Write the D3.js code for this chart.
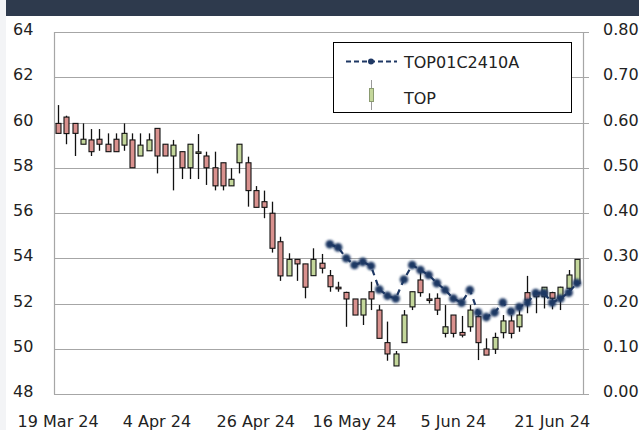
<!DOCTYPE html>
<html><head><meta charset="utf-8">
<script src="https://cdn.jsdelivr.net/npm/d3@7/dist/d3.min.js"></script>
<style>body{margin:0;background:#fff}svg{display:block;font-family:"DejaVu Sans",sans-serif}</style>
</head><body><svg id="c" width="639" height="430"></svg>
<script>
// ---- data ----
const dates = ["2024-03-19","2024-03-20","2024-03-21","2024-03-22","2024-03-25","2024-03-26","2024-03-27","2024-03-28","2024-03-29","2024-04-01","2024-04-02","2024-04-03","2024-04-04","2024-04-05","2024-04-09","2024-04-10","2024-04-11","2024-04-17","2024-04-18","2024-04-19","2024-04-22","2024-04-23","2024-04-24","2024-04-25","2024-04-26","2024-04-29","2024-04-30","2024-05-02","2024-05-03","2024-05-07","2024-05-08","2024-05-09","2024-05-10","2024-05-13","2024-05-14","2024-05-15","2024-05-16","2024-05-17","2024-05-20","2024-05-21","2024-05-23","2024-05-24","2024-05-27","2024-05-28","2024-05-29","2024-05-30","2024-05-31","2024-06-04","2024-06-05","2024-06-06","2024-06-07","2024-06-10","2024-06-11","2024-06-12","2024-06-13","2024-06-14","2024-06-17","2024-06-18","2024-06-19","2024-06-20","2024-06-21","2024-06-24","2024-06-25","2024-06-26"];
const openP  = [59.96,60.24,59.96,59.04,59.23,59.26,59.04,59.26,59.00,59.23,58.52,58.75,59.74,59.04,58.52,58.71,58.00,58.64,58.52,58.00,58.22,57.20,58.22,58.22,56.99,56.50,55.99,54.73,53.22,53.95,53.75,53.23,53.78,53.23,52.72,52.49,52.20,51.49,52.52,51.71,50.27,49.24,50.27,51.85,53.04,52.20,52.23,50.68,51.49,50.72,50.97,51.42,49.99,49.98,50.71,51.23,50.97,52.48,52.45,52.30,52.48,52.23,52.67,52.89];
const highP  = [60.77,60.30,59.96,59.96,59.71,59.71,59.52,59.52,59.96,59.52,59.52,59.52,59.74,59.04,59.23,58.71,59.04,59.49,58.71,58.71,58.22,57.98,59.04,58.49,57.19,56.99,56.50,54.95,54.22,53.95,53.75,54.44,54.19,53.48,52.96,52.52,52.20,52.20,52.96,51.93,51.20,49.90,51.71,52.52,53.48,52.45,52.45,51.93,51.49,51.45,51.93,51.49,50.46,50.71,51.49,51.49,51.71,53.22,52.52,52.72,52.52,52.74,53.48,53.95];
const lowP   = [59.52,59.04,58.52,59.04,58.52,58.75,58.71,58.71,58.75,58.00,58.52,58.75,57.75,58.52,57.00,57.50,57.50,57.50,57.24,57.00,57.00,57.20,57.75,56.28,56.25,55.77,54.25,53.00,53.22,53.00,52.23,53.23,53.33,52.52,52.52,50.97,51.49,51.05,51.71,50.46,49.47,49.24,50.27,51.71,52.30,52.00,51.49,50.50,50.50,50.50,50.75,49.50,49.72,49.77,50.46,50.46,50.75,51.57,51.57,51.78,51.74,51.71,52.38,52.89];
const closeP = [59.52,59.51,59.52,59.26,58.71,59.04,58.71,58.71,59.52,58.00,59.00,59.23,58.52,58.52,59.00,58.00,59.04,58.70,58.00,57.20,57.20,57.49,59.04,56.99,56.25,56.25,54.44,53.22,53.95,53.75,52.72,53.95,53.56,52.74,52.65,52.20,51.49,52.20,52.20,50.46,49.77,49.77,51.49,52.52,52.48,52.15,51.71,50.97,50.68,50.60,51.71,50.27,49.72,50.50,51.23,50.68,51.49,52.15,52.30,52.72,52.23,52.72,53.26,53.95];
const warrant = [null,null,null,null,null,null,null,null,null,null,null,null,null,null,null,null,null,null,null,null,null,null,null,null,null,null,null,null,null,null,null,null,null,
  0.331,0.324,0.300,0.285,0.292,0.283,0.231,0.217,0.211,0.253,0.285,0.274,0.263,0.245,0.230,0.211,0.202,0.230,0.180,0.170,0.180,0.202,0.182,0.192,0.202,0.223,0.223,0.202,0.211,0.224,0.245];
const leftTicks = [48,50,52,54,56,58,60,62,64];
const rightTicks = [0,0.1,0.2,0.3,0.4,0.5,0.6,0.7,0.8];
const xTickDates = ["2024-03-19","2024-04-04","2024-04-26","2024-05-16","2024-06-05","2024-06-21"];
const seriesNames = ["TOP01C2410A","TOP"];

// ---- layout ----
const L = 54, R = 583, T = 32, B = 394;
const svg = d3.select("#c");
const parse = d3.timeParse("%Y-%m-%d"), fmt = d3.timeFormat("%-d %b %y");
const x = d3.scaleBand().domain(dates).range([L, 581]);
const cx = d => x(d) + x.bandwidth() / 2;
const yL = d3.scaleLinear().domain([48, 64]).range([B, T]);
const yR = d3.scaleLinear().domain([0, 0.8]).range([B, T]);
const green = "#c4d79b", red = "#d9918e", navy = "#1f3864", grid = "#a6a6a6";

svg.append("rect").attr("x",0).attr("y",0).attr("width",6).attr("height",430).attr("fill","#f3f4f6");
svg.append("rect").attr("x",6).attr("y",0).attr("width",633).attr("height",16).attr("fill","#2e3a4d");

const defs = svg.append("defs");
defs.append("filter").attr("id","blur").attr("x","-50%").attr("y","-50%").attr("width","200%").attr("height","200%")
  .append("feGaussianBlur").attr("stdDeviation",0.9);

// gridlines
svg.append("g").selectAll("line").data(leftTicks).join("line")
  .attr("x1",L).attr("x2",R+6).attr("y1",d=>Math.round(yL(d))+0.5).attr("y2",d=>Math.round(yL(d))+0.5)
  .attr("stroke",grid).attr("stroke-width",1.2);
svg.append("line").attr("x1",L+0.5).attr("x2",L+0.5).attr("y1",T).attr("y2",B+0.5).attr("stroke",grid).attr("stroke-width",1.2);
svg.append("line").attr("x1",R+0.5).attr("x2",R+0.5).attr("y1",T).attr("y2",B+0.5).attr("stroke",grid).attr("stroke-width",1.2);

// axis labels
svg.append("g").selectAll("text").data(leftTicks).join("text")
  .attr("x",13).attr("y",d=>yL(d)+3).attr("font-size",16).attr("fill","#222").text(d=>d);
svg.append("g").selectAll("text").data(rightTicks).join("text")
  .attr("x",603).attr("y",d=>yR(d)+3).attr("font-size",16).attr("fill","#222").text(d3.format(".2f"));
svg.append("g").selectAll("text").data(xTickDates).join("text")
  .attr("x",d=>cx(d)).attr("y",427).attr("text-anchor","middle").attr("font-size",16).attr("fill","#222")
  .text(d=>fmt(parse(d)));

// candles
const candles = dates.map((d,i)=>({d,o:openP[i],h:highP[i],l:lowP[i],c:closeP[i]}));
const cg = svg.append("g");
cg.selectAll("line").data(candles).join("line")
  .attr("x1",d=>Math.round(cx(d.d))+0.5).attr("x2",d=>Math.round(cx(d.d))+0.5)
  .attr("y1",d=>yL(d.h)).attr("y2",d=>yL(d.l)).attr("stroke","#111").attr("stroke-width",1.3);
cg.selectAll("rect").data(candles).join("rect")
  .attr("x",d=>Math.round(cx(d.d))-2).attr("width",5)
  .attr("y",d=>yL(Math.max(d.o,d.c)))
  .attr("height",d=>Math.max(1.5, yL(Math.min(d.o,d.c))-yL(Math.max(d.o,d.c))))
  .attr("fill",d=>d.c>=d.o?green:red).attr("stroke","#111").attr("stroke-width",1.1);

// warrant line
const pts = dates.map((d,i)=>({d,v:warrant[i]})).filter(p=>p.v!=null);
svg.append("path").datum(pts)
  .attr("d",d3.line().x(p=>cx(p.d)).y(p=>yR(p.v)))
  .attr("fill","none").attr("stroke",navy).attr("stroke-width",2.2).attr("stroke-dasharray","6,5");
svg.append("g").attr("filter","url(#blur)").selectAll("circle").data(pts).join("circle")
  .attr("cx",p=>cx(p.d)).attr("cy",p=>yR(p.v)).attr("r",4.3).attr("fill",navy);

// legend
const lg = svg.append("g");
lg.append("rect").attr("x",333.5).attr("y",42.5).attr("width",238).attr("height",70).attr("fill","#fff").attr("stroke","#000");
lg.append("line").attr("x1",346).attr("x2",397).attr("y1",61.5).attr("y2",61.5).attr("stroke",navy).attr("stroke-width",2).attr("stroke-dasharray","5,3");
lg.append("circle").attr("cx",371).attr("cy",61.5).attr("r",3).attr("fill",navy);
lg.append("text").attr("x",404).attr("y",67.5).attr("font-size",16).attr("fill","#222").text(seriesNames[0]);
lg.append("line").attr("x1",371.5).attr("x2",371.5).attr("y1",80).attr("y2",110).attr("stroke","#999");
lg.append("rect").attr("x",369.5).attr("y",88.5).attr("width",4).attr("height",13).attr("fill",green).attr("stroke","#8a9a70");
lg.append("text").attr("x",404).attr("y",103.5).attr("font-size",16).attr("fill","#222").text(seriesNames[1]);
</script></body></html>
